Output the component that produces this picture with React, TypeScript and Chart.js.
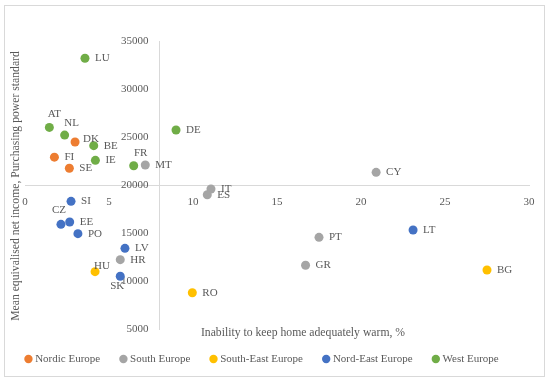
import React, { useEffect, useRef } from "react";
import { Chart, registerables } from "chart.js";

Chart.register(...registerables);

// ---- data ----
const groupNames = ["Nordic Europe", "South Europe", "South-East Europe", "Nord-East Europe", "West Europe"];
const groupColors = ["#ED7D31", "#A5A5A5", "#FFC000", "#4472C4", "#70AD47"];

const nordicCodes = ["DK", "FI", "SE"];
const nordicX = [2.98, 1.75, 2.64];
const nordicY = [24480, 22900, 21740];

const southCodes = ["MT", "IT", "ES", "HR", "PT", "GR", "CY"];
const southX = [7.16, 11.07, 10.85, 5.67, 17.5, 16.7, 20.9];
const southY = [22080, 19580, 18990, 12220, 14550, 11640, 21320];

const southEastCodes = ["HU", "RO", "BG"];
const southEastX = [4.17, 9.96, 27.5];
const southEastY = [10970, 8780, 11150];

const nordEastCodes = ["SI", "CZ", "EE", "PO", "LV", "SK", "LT"];
const nordEastX = [2.74, 2.14, 2.66, 3.15, 5.95, 5.67, 23.1];
const nordEastY = [18300, 15900, 16150, 14930, 13400, 10490, 15310];

const westCodes = ["LU", "AT", "NL", "BE", "IE", "FR", "DE"];
const westX = [3.57, 1.45, 2.36, 4.09, 4.19, 6.47, 8.99];
const westY = [33200, 26000, 25200, 24100, 22570, 22000, 25730];

const xTicksMin = 0;
const xTicksMax = 30;
const xStep = 5;
const yTicksMin = 5000;
const yTicksMax = 35000;
const yStep = 5000;
const xCross = 8;
const yCross = 20000;

const xTitle = "Inability to keep home adequately warm, %";
const yTitle = "Mean equivalised net income, Purchasing power standard";

// label placement (style only): offsets of label center from point
const labelOffsets: Record<string, [number, number, CanvasTextAlign]> = {
  AT: [5, -13, "center"],
  NL: [7, -12, "center"],
  FR: [7, -13, "center"],
  CZ: [-2, -14, "center"],
  HU: [7, -6, "center"],
  SK: [-3, 10, "center"],
  DK: [8, -3, "left"],
};

const FONT = "'Liberation Serif', 'Times New Roman', serif";
const TEXT = "#595959";

const groups = [
  { codes: nordicCodes, xs: nordicX, ys: nordicY },
  { codes: southCodes, xs: southX, ys: southY },
  { codes: southEastCodes, xs: southEastX, ys: southEastY },
  { codes: nordEastCodes, xs: nordEastX, ys: nordEastY },
  { codes: westCodes, xs: westX, ys: westY },
];

const decorPlugin = {
  id: "decor",
  beforeDraw(chart: any) {
    const { ctx, width, height } = chart;
    ctx.save();
    ctx.fillStyle = "#ffffff";
    ctx.fillRect(0, 0, width, height);
    ctx.strokeStyle = "#d9d9d9";
    ctx.lineWidth = 1;
    ctx.strokeRect(4.5, 5.5, 540, 371);
    ctx.restore();
  },
  afterDraw(chart: any) {
    const { ctx, chartArea } = chart;
    ctx.save();
    ctx.fillStyle = TEXT;
    ctx.font = `11.7px ${FONT}`;
    ctx.textBaseline = "middle";
    ctx.textAlign = "center";
    ctx.fillText(xTitle, 303, chartArea.bottom + 4);
    ctx.save();
    ctx.translate(16, 186);
    ctx.rotate(-Math.PI / 2);
    ctx.fillText(yTitle, 0, 0);
    ctx.restore();

    // legend
    ctx.font = `11px ${FONT}`;
    ctx.textAlign = "left";
    const r = 4.2;
    const gapText = 2.5;
    const gapItem = 19;
    const widths = chart.data.datasets.map((ds: any) => ctx.measureText(ds.label).width);
    let total = 0;
    widths.forEach((w: number, i: number) => {
      total += 2 * r + gapText + w + (i > 0 ? gapItem : 0);
    });
    let x = 261.5 - total / 2;
    const y = 359;
    chart.data.datasets.forEach((ds: any, i: number) => {
      ctx.beginPath();
      ctx.fillStyle = ds.backgroundColor;
      ctx.arc(x + r, y, r, 0, Math.PI * 2);
      ctx.fill();
      ctx.fillStyle = TEXT;
      ctx.fillText(ds.label, x + 2 * r + gapText, y);
      x += 2 * r + gapText + widths[i] + gapItem;
    });
    ctx.restore();
  },
  afterDatasetsDraw(chart: any) {
    const { ctx } = chart;
    ctx.save();
    ctx.fillStyle = TEXT;
    ctx.font = `11px ${FONT}`;
    ctx.textBaseline = "middle";
    chart.data.datasets.forEach((ds: any, di: number) => {
      const meta = chart.getDatasetMeta(di);
      meta.data.forEach((el: any, i: number) => {
        const code = ds.codes[i];
        const off = labelOffsets[code] || [10, 0, "left"];
        ctx.textAlign = off[2];
        ctx.fillText(code, el.x + off[0], el.y + off[1]);
      });
    });
    ctx.restore();
  },
};

export default function App() {
  const ref = useRef<HTMLCanvasElement | null>(null);
  useEffect(() => {
    document.body.style.margin = "0";
    const canvas = ref.current;
    if (!canvas) return;
    const chart = new Chart(canvas, {
      type: "scatter",
      data: {
        datasets: groups.map((g, gi) => ({
          label: groupNames[gi],
          codes: g.codes,
          data: g.xs.map((x, i) => ({ x, y: g.ys[i] })),
          backgroundColor: groupColors[gi],
          borderColor: groupColors[gi],
          borderWidth: 0,
          pointRadius: 4.5,
          pointHoverRadius: 4.5,
        })) as any,
      },
      options: {
        animation: false,
        responsive: false,
        maintainAspectRatio: false,
        layout: { padding: { left: 25, right: 21, top: 41, bottom: 52 } },
        scales: {
          x: {
            type: "linear",
            min: xTicksMin,
            max: xTicksMax,
            position: { y: yCross } as any,
            ticks: { stepSize: xStep, color: TEXT, font: { family: FONT, size: 11 } },
            grid: { display: false },
            border: { display: true, color: "#d9d9d9" },
          },
          y: {
            type: "linear",
            min: yTicksMin,
            max: yTicksMax,
            position: { x: xCross } as any,
            ticks: {
              stepSize: yStep,
              color: TEXT,
              font: { family: FONT, size: 11 },
              callback: (v: any) => String(v) + "\u2002\u2002",
            },
            grid: { display: false },
            border: { display: true, color: "#d9d9d9" },
          },
        },
        plugins: {
          legend: { display: false },
          tooltip: { enabled: false },
        },
      },
      plugins: [decorPlugin],
    });
    return () => chart.destroy();
  }, []);
  return (
    <div style={{ width: 550, height: 381 }}>
      <canvas ref={ref} width={550} height={381} style={{ width: 550, height: 381, display: "block" }} />
    </div>
  );
}
